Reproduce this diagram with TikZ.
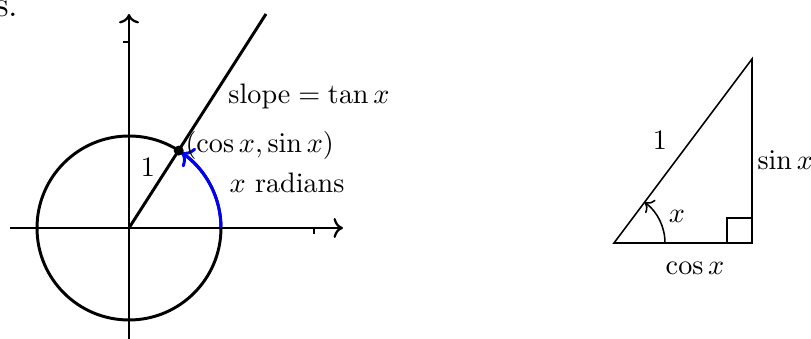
\documentclass[tikz,border=0pt]{standalone}
\usetikzlibrary{arrows.meta,calc}
\begin{document}
\begin{tikzpicture}[x=0.355pt,y=-0.355pt,
  axis/.style={thick,->},
  heavy/.style={line width=1.05pt},
  thin line/.style={line width=0.55pt},
  lbl/.style={inner sep=0pt}]
\useasboundingbox (0,0) rectangle (811,339);
% stray text from the surrounding document
\node[lbl,anchor=base east,font=\fontsize{12.5}{15}\selectfont] (s) at (19,17) {s.};
% axes
\coordinate (O) at (129,228);
\coordinate (xl) at (10,228);
\coordinate (xr) at (343,228);
\coordinate (yb) at (129,345);
\coordinate (yt) at (129,14);
\draw[axis] (xl) -- (xr);
\draw[axis] (yb) -- (yt);
\coordinate (xt) at (314,228);
\coordinate (yt2) at (129,42);
\draw[thick] (xt) -- ++(0,6);
\draw[thick] (yt2) -- ++(-6,0);
% unit circle
\draw[heavy] (O) circle [radius=92];
% radius line
\coordinate (P) at ($(O)+(-57.3:92)$);
\coordinate (L) at (266,14);
\draw[heavy] (O) -- (L);
% blue arc
\coordinate (A) at (221,228);
\draw[blue,heavy,->] (A) arc[start angle=0,end angle=-55.5,radius=92];
\fill (P) circle [radius=5];
% labels
\node[lbl] (one) at (148,167) {$1$};
\node[lbl,anchor=west] (pt) at (185,145) {$(\cos x,\sin x)$};
\node[lbl] (rad) at (287,183) {$x$ radians};
\node[lbl] (slope) at (309,96) {slope${}=\tan x$};
% triangle
\coordinate (B) at (614,243);
\coordinate (C) at (752,243);
\coordinate (T) at (752,59);
\draw[thin line] (B) -- (C) -- (T) -- cycle;
\draw[thin line] (727,243) -- (727,218) -- (752,218);
\draw[thin line,->] ($(B)+(51,0)$) arc[start angle=0,end angle=-53.13,radius=51];
\node[lbl] (h) at (660,140) {$1$};
\node[lbl,anchor=west] (sx) at (757,160) {$\sin x$};
\node[lbl] (ang) at (677,216) {$x$};
\node[lbl] (cx) at (695,268) {$\cos x$};
\end{tikzpicture}
\end{document}
